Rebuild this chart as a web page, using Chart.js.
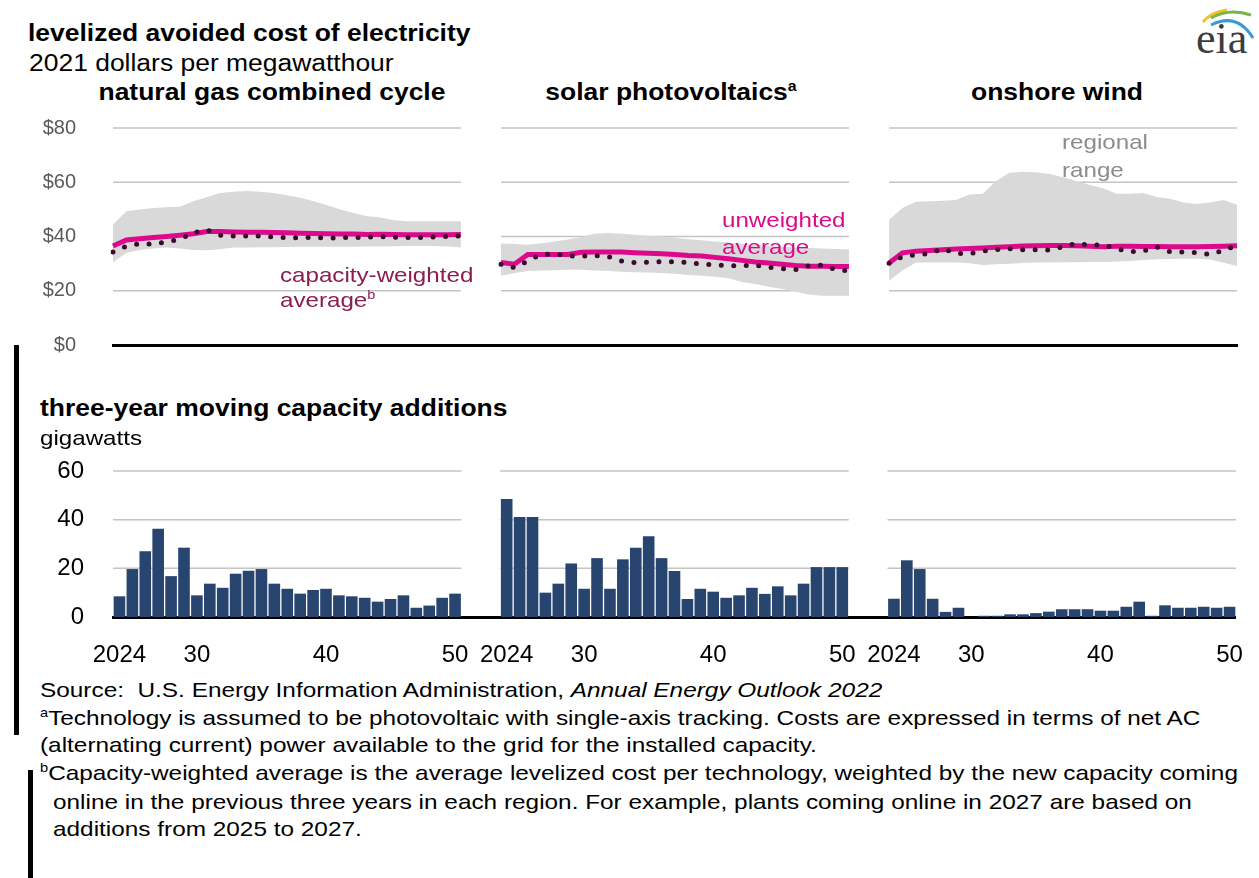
<!DOCTYPE html>
<html>
<head>
<meta charset="utf-8">
<script src="https://cdn.jsdelivr.net/npm/chart.js@4.4.0/dist/chart.umd.min.js"></script>
<style>
body { margin: 0; background: #fff; font-family: "Liberation Sans", Arial, sans-serif; }
#page { position: relative; width: 1259px; height: 878px; overflow: hidden; }
.t { position: absolute; z-index: 2; white-space: nowrap; line-height: 26px; transform: scaleX(1.15); transform-origin: left center; color: #000; }
.f { font-size: 21px; transform: scaleX(1.16); }
.c { transform-origin: center center; text-align: center; }
.b { font-weight: bold; }
canvas { position: absolute; left: 0; z-index: 1; }
.bar { position: absolute; background: #000; }
sup { font-size: 0.6em; line-height: 0; }
</style>
</head>
<body>
<div id="page">
  <div class="t b" style="left:28px;top:20px;font-size:23px;">levelized avoided cost of electricity</div>
  <div class="t" style="left:29px;top:50px;font-size:23px;">2021 dollars per megawatthour</div>
  <div class="t b c" style="left:121px;width:300px;top:79px;font-size:23px;">natural gas combined cycle</div>
  <div class="t b c" style="left:521px;width:300px;top:79px;font-size:23px;">solar photovoltaics<sup>a</sup></div>
  <div class="t b c" style="left:907px;width:300px;top:79px;font-size:23px;">onshore wind</div>

  <div class="t" style="left:280px;top:262px;font-size:21px;color:#8b1d52;">capacity-weighted</div>
  <div class="t" style="left:280px;top:287px;font-size:21px;color:#8b1d52;">average<sup>b</sup></div>
  <div class="t" style="left:722px;top:207px;font-size:21px;color:#dc0a8a;">unweighted</div>
  <div class="t" style="left:722px;top:234px;font-size:21px;color:#dc0a8a;">average</div>
  <div class="t" style="left:1062px;top:129px;font-size:21px;color:#8c8c8c;">regional</div>
  <div class="t" style="left:1062px;top:157px;font-size:21px;color:#8c8c8c;">range</div>

  <div class="t b" style="left:40px;top:395px;font-size:23px;">three-year moving capacity additions</div>
  <div class="t" style="left:40px;top:425px;font-size:21px;">gigawatts</div>

  <div class="t f" style="left:40px;top:677px;">Source:&nbsp; U.S. Energy Information Administration, <i>Annual Energy Outlook 2022</i></div>
  <div class="t f" style="left:40px;top:705px;"><sup>a</sup>Technology is assumed to be photovoltaic with single-axis tracking. Costs are expressed in terms of net AC</div>
  <div class="t f" style="left:40px;top:732px;">(alternating current) power available to the grid for the installed capacity.</div>
  <div class="t f" style="left:40px;top:760px;"><sup>b</sup>Capacity-weighted average is the average levelized cost per technology, weighted by the new capacity coming</div>
  <div class="t f" style="left:53px;top:789px;">online in the previous three years in each region. For example, plants coming online in 2027 are based on</div>
  <div class="t f" style="left:53px;top:816px;">additions from 2025 to 2027.</div>

  <div class="bar" style="left:14px;top:345px;width:5px;height:390px;"></div>
  <div class="bar" style="left:28px;top:770px;width:5px;height:108px;"></div>

  <svg width="70" height="60" style="position:absolute;left:1189px;top:0;">
    <path d="M14 22 Q22 12 38 10" stroke="#f2c12e" stroke-width="3" fill="none"/>
    <path d="M22 18 Q40 8 62 15" stroke="#79b54a" stroke-width="3" fill="none"/>
    <path d="M22 25 Q48 12 64 38" stroke="#3b9bd8" stroke-width="3" fill="none"/>
    <text x="7" y="53" font-family="Liberation Serif" font-size="44" fill="#3c3c3c">eia</text>
  </svg>

  <canvas id="costChart" width="1259" height="250" style="top:108px;"></canvas>
  <canvas id="addChart" width="1259" height="220" style="top:450px;"></canvas>
</div>

<script>
// years shown in each of the three panels
var years = [2024, 2025, 2026, 2027, 2028, 2029, 2030, 2031, 2032, 2033, 2034, 2035, 2036, 2037,
             2038, 2039, 2040, 2041, 2042, 2043, 2044, 2045, 2046, 2047, 2048, 2049, 2050];

// levelized avoided cost, 2021 $/MWh
var gasUnweighted = [36.5, 38.7, 39.2, 39.6, 40, 40.5, 41, 41.8, 41.8, 41.7, 41.6, 41.6, 41.5, 41.4,
                     41.2, 41.1, 41, 40.9, 40.9, 40.7, 40.8, 40.7, 40.6, 40.6, 40.6, 40.6, 40.7];
var gasWeighted = [34.3, 36.4, 37.4, 37.1, 38, 39, 41.3, 42.5, 40.5, 40.2, 40.2, 40.2, 39.8, 39.5,
                   39.6, 39.6, 39.4, 39.6, 39.6, 39.8, 39.9, 39.7, 39.6, 39.6, 39.8, 40, 40.2];
var gasHigh = [44.4, 49.3, 50, 50.5, 50.8, 51, 53, 54.5, 56, 56.5, 56.8, 56.5, 56, 55.2,
               54.3, 53, 51.5, 50, 48.7, 47.5, 47, 46, 45.6, 45.6, 45.6, 45.6, 45.6];
var gasLow = [30.4, 34, 35, 35.6, 35.9, 35.6, 35, 34.9, 35.3, 35.9, 35.9, 36, 36, 36.1,
              36.2, 36.2, 36.2, 36.2, 36.2, 36.3, 36.3, 36.4, 36.5, 36.5, 36.5, 36.3, 35.9];

var solarUnweighted = [30.4, 29.8, 33.4, 33.4, 33.4, 33.4, 34.2, 34.3, 34.3, 34.3, 34, 33.8, 33.6, 33.4,
                       33, 32.8, 32.3, 31.8, 31.2, 30.6, 30.2, 29.8, 29.3, 29, 29, 28.9, 28.9];
var solarWeighted = [29.8, 28.5, 31, 33.4, 33.6, 32.8, 32.8, 33, 32.6, 31, 30.4, 30.5, 30.7, 30.7,
                     30.4, 29.8, 29.5, 29.2, 29.2, 29.4, 28.6, 28.2, 27.8, 29.2, 29.4, 27.8, 27.3];
var solarHigh = [37.4, 37.2, 37, 37.5, 38.2, 38.9, 39.8, 41, 41.3, 41, 40.6, 40.3, 40, 39.5,
                 39, 38.6, 38.2, 37.8, 37.2, 36.9, 36.5, 36.2, 36, 35.8, 35.6, 35.4, 35.2];
var solarLow = [25.5, 26.5, 27.3, 27.5, 27.6, 27.7, 27.7, 27.5, 27.3, 27, 26.8, 26.7, 26.5, 26.3,
                25.8, 25.5, 25.2, 24.6, 23.2, 22.5, 21.5, 20.6, 19.6, 18.6, 18.2, 18.2, 18.2];

var windUnweighted = [30.2, 34, 34.6, 34.8, 35.1, 35.4, 35.6, 35.8, 36, 36.2, 36.5, 36.6, 36.7, 36.7,
                      36.6, 36.4, 36.2, 36.4, 36.4, 36.3, 36.3, 36.2, 36.2, 36.2, 36.3, 36.4, 36.6];
var windWeighted = [30.1, 32.6, 33.2, 33.7, 35.5, 33.7, 33.7, 34.6, 35.2, 35.5, 35.1, 35.1, 35, 36.2,
                    37.4, 36.8, 37, 35.5, 34.4, 34.6, 36.2, 34.4, 34.3, 34, 33.4, 34.9, 36.8];
var windHigh = [46.2, 50.5, 52.8, 53, 53.2, 53.5, 55.5, 55.8, 60.5, 63.5, 63.9, 63.7, 63, 61.8,
                60.5, 59, 57.8, 55.8, 55.8, 56, 54.6, 53.9, 52.5, 52, 52.5, 53.5, 51.7];
var windLow = [23.7, 27.5, 30.4, 30.4, 30.4, 30.4, 30.1, 29.5, 29.8, 30, 30.2, 30.4, 30.4, 30.5,
               30.5, 30.6, 30.6, 30.8, 31, 31.3, 31.6, 31.7, 31.8, 31.8, 31.5, 30.3, 29.1];

// three-year moving capacity additions, gigawatts
var gasAdds = [8.5, 19.7, 27, 36.3, 16.8, 28.5, 8.9, 13.7, 12, 17.8, 19, 19.7, 13.7, 11.6,
               9.6, 11.1, 11.6, 8.9, 8.5, 7.9, 6.3, 7.4, 8.9, 3.8, 4.7, 7.9, 9.6];
var solarAdds = [48.5, 41.1, 41.1, 10, 13.7, 22, 11.6, 24.2, 11.6, 23.7, 28.5, 33.2, 24.2, 18.9,
                 7.4, 11.6, 10.4, 7.9, 8.9, 12, 9.5, 12.6, 8.9, 13.7, 20.5, 20.5, 20.5];
var windAdds = [7.5, 23.3, 19.7, 7.5, 2.1, 3.8, 0, 0.5, 0.5, 1.1, 1.1, 1.6, 2.2, 3.2,
                3.2, 3.2, 2.6, 2.6, 4.2, 6.3, 0.5, 4.8, 3.8, 3.8, 4.2, 3.8, 4.2];

var costTicks = [0, 20, 40, 60, 80];
var addTicks = [0, 20, 40, 60];

var FONT = '"Liberation Sans", Arial, sans-serif';
var N = years.length;
var LINE_GAP = 2;      // empty slots between the line panels
var BAR_GAP = 3;       // empty slots between the bar panels

// three panels side by side on one category axis
function joinPanels(a, b, c, gapSize) {
    var gap = [];
    for (var i = 0; i < gapSize; i++) gap.push(null);
    return a.concat(gap, b, gap, c);
}
function inPanel(values, p) {
    var empty = [];
    for (var i = 0; i < N; i++) empty.push(null);
    var parts = [empty, empty, empty];
    parts[p] = values;
    return joinPanels(parts[0], parts[1], parts[2], LINE_GAP);
}
function makeLabels(gapSize) {
    return joinPanels(years, years, years, gapSize).map(function (v) { return v === null ? "" : v; });
}
function makeSpans(g) {
    return [[0, N - 1], [N + g, 2 * N + g - 1], [2 * (N + g), 3 * N + 2 * g - 1]];
}

// gridlines only across each panel, not across the gaps
function panelGrid(spans, half) {
    return {
        id: "panelGrid",
        beforeDatasetsDraw: function (chart) {
            var ctx = chart.ctx, x = chart.scales.x, y = chart.scales.y;
            var pad = half ? (x.getPixelForValue(1) - x.getPixelForValue(0)) / 2 : 0;
            ctx.save();
            ctx.strokeStyle = "#c4c4c4";
            ctx.lineWidth = 1.5;
            y.ticks.forEach(function (t) {
                if (t.value === 0) return;
                var py = y.getPixelForValue(t.value);
                spans.forEach(function (s) {
                    ctx.beginPath();
                    ctx.moveTo(x.getPixelForValue(s[0]) - pad, py);
                    ctx.lineTo(x.getPixelForValue(s[1]) + pad, py);
                    ctx.stroke();
                });
            });
            ctx.restore();
        }
    };
}

// y axis: fixed width, no extra top/bottom padding from tick padding
function fixY(s) {
    s.width = 113;
    s.paddingTop = 0;
    s.paddingBottom = 0;
}

var costSets = [];
[[gasUnweighted, gasWeighted, gasHigh, gasLow],
 [solarUnweighted, solarWeighted, solarHigh, solarLow],
 [windUnweighted, windWeighted, windHigh, windLow]].forEach(function (s, p) {
    costSets.push({
        label: "capacity-weighted average",
        data: inPanel(s[1], p),
        borderColor: "#3b0a2d",
        borderWidth: 5,
        borderDash: [0, 12.5],
        borderCapStyle: "round",
        pointRadius: 0,
        fill: false,
        order: 1
    });
    costSets.push({
        label: "unweighted average",
        data: inPanel(s[0], p),
        borderColor: "#dc0a8a",
        borderWidth: 5,
        pointRadius: 0,
        fill: false,
        order: 2
    });
    costSets.push({
        label: "regional range high",
        data: inPanel(s[2], p),
        borderWidth: 0,
        borderColor: "rgba(0,0,0,0)",
        backgroundColor: "#d9d9d9",
        pointRadius: 0,
        fill: "+1",
        order: 3
    });
    costSets.push({
        label: "regional range low",
        data: inPanel(s[3], p),
        borderWidth: 0,
        borderColor: "rgba(0,0,0,0)",
        pointRadius: 0,
        fill: false,
        order: 3
    });
});

new Chart("costChart", {
    type: "line",
    data: { labels: makeLabels(LINE_GAP), datasets: costSets },
    options: {
        responsive: false,
        animation: false,
        layout: { padding: { top: 20, right: 22, bottom: 13, left: 0 } },
        plugins: { legend: { display: false }, tooltip: { enabled: false } },
        scales: {
            x: {
                grid: { display: false },
                ticks: { display: false },
                border: { display: true, color: "#000", width: 3 },
                afterFit: function (s) { s.height = 0; }
            },
            y: {
                min: 0,
                max: 80,
                afterBuildTicks: function (s) { s.ticks = costTicks.map(function (v) { return { value: v }; }); },
                grid: { display: false },
                border: { display: false },
                ticks: {
                    padding: 29,
                    color: "#595959",
                    font: { family: FONT, size: 20 },
                    callback: function (v) { return "$" + v; }
                },
                afterFit: fixY
            }
        }
    },
    plugins: [panelGrid(makeSpans(LINE_GAP), false)]
});

new Chart("addChart", {
    type: "bar",
    data: {
        labels: makeLabels(BAR_GAP),
        datasets: [{
            label: "capacity additions",
            data: joinPanels(gasAdds, solarAdds, windAdds, BAR_GAP),
            backgroundColor: "#284570",
            barPercentage: 0.9,
            categoryPercentage: 1
        }]
    },
    options: {
        responsive: false,
        animation: false,
        layout: { padding: { top: 21, right: 21, bottom: 0, left: 0 } },
        plugins: { legend: { display: false }, tooltip: { enabled: false } },
        scales: {
            x: {
                grid: { display: false },
                border: { display: true, color: "#000", width: 3 },
                ticks: {
                    autoSkip: false,
                    maxRotation: 0,
                    padding: 16,
                    color: "#000",
                    font: { family: FONT, size: 24 },
                    callback: function (v) {
                        var yr = this.getLabelForValue(v);
                        if (yr === 2024) return "2024";
                        if (yr !== "" && yr % 10 === 0) return String(yr % 100);
                        return "";
                    }
                },
                afterFit: function (s) { s.height = 53; }
            },
            y: {
                min: 0,
                max: 60,
                afterBuildTicks: function (s) { s.ticks = addTicks.map(function (v) { return { value: v }; }); },
                grid: { display: false },
                border: { display: false },
                ticks: {
                    padding: 21,
                    color: "#000",
                    font: { family: FONT, size: 24 }
                },
                afterFit: fixY
            }
        }
    },
    plugins: [panelGrid(makeSpans(BAR_GAP), true)]
});
</script>
</body>
</html>
